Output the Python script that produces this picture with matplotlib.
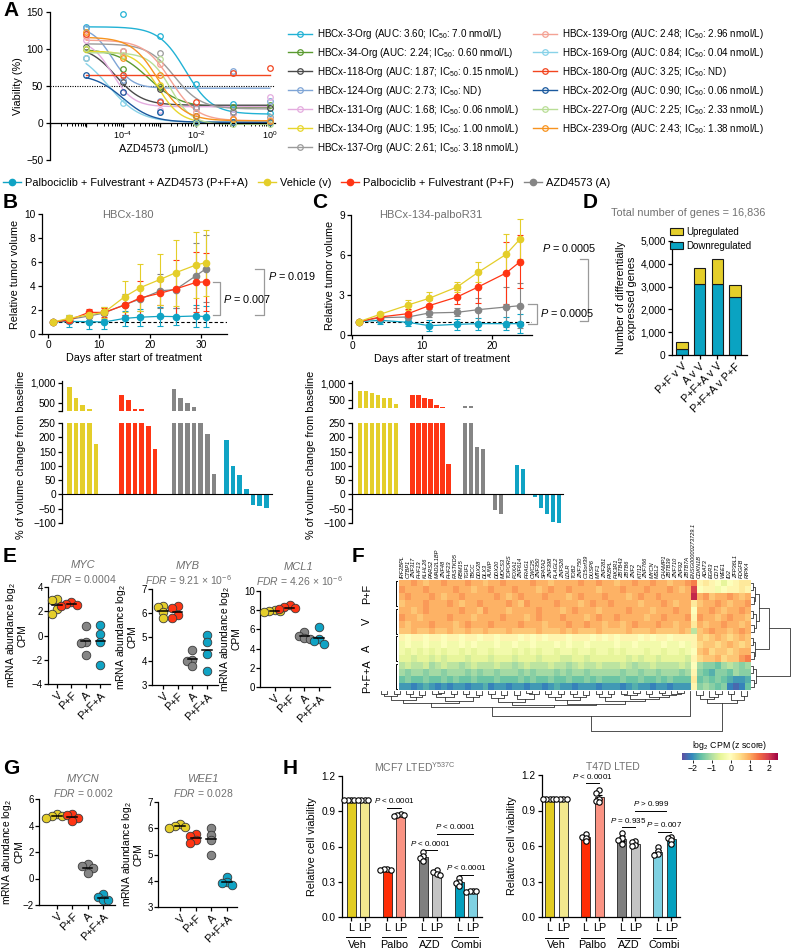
import numpy as np
import matplotlib
matplotlib.use('Agg')
import matplotlib.pyplot as plt
from matplotlib.lines import Line2D
from matplotlib.patches import Patch
from matplotlib.ticker import LogLocator, NullFormatter

plt.rcParams['font.family'] = ['Liberation Sans', 'DejaVu Sans']
plt.rcParams['mathtext.fontset'] = 'custom'
plt.rcParams['mathtext.rm'] = 'Liberation Sans'
plt.rcParams['mathtext.it'] = 'Liberation Sans:italic'
plt.rcParams['mathtext.bf'] = 'Liberation Sans:bold'
plt.rcParams['mathtext.default'] = 'regular'
plt.rcParams['axes.linewidth'] = 0.9
plt.rcParams['axes.labelsize'] = 7.8
plt.rcParams['xtick.labelsize'] = 7.3
plt.rcParams['ytick.labelsize'] = 7.3

GRAY_TXT = '#707070'
C_V, C_PF, C_A, C_PFA = '#e4ce2a', '#ff3514', '#858585', '#10a3c4'

# ---------- A: organoid dose response ----------
conc = [1e-5, 1e-4, 1e-3, 1e-2, 1e-1, 1e0]
org_names = ['HBCx-3', 'HBCx-34', 'HBCx-118', 'HBCx-124', 'HBCx-131', 'HBCx-134', 'HBCx-137',
             'HBCx-139', 'HBCx-169', 'HBCx-180', 'HBCx-202', 'HBCx-227', 'HBCx-239']
org_auc = ['3.60', '2.24', '1.87', '2.73', '1.68', '1.95', '2.61', '2.48', '0.84', '3.25', '0.90', '2.25', '2.43']
org_ic50 = ['7.0 nmol/L', '0.60 nmol/L', '0.15 nmol/L', 'ND', '0.06 nmol/L', '1.00 nmol/L', '3.18 nmol/L',
            '2.96 nmol/L', '0.04 nmol/L', 'ND', '0.06 nmol/L', '2.33 nmol/L', '1.38 nmol/L']
org_colors = ['#22b2d5', '#5a9a30', '#4a4a4a', '#7fa5d6', '#e4acdf', '#e7d62c', '#9b9b9b',
              '#f4a294', '#88d2e8', '#f2451f', '#1b599e', '#b9de96', '#f7931f']
org_viab = [
    [130, 147, 117, 53, 26, 13],
    [100, 73, 48, 22, 22, 24],
    [103, 55, 46, 10, 15, 20],
    [128, 58, 30, 22, 70, 30],
    [112, 42, 18, 20, 12, 35],
    [100, 90, 52, 2, 1, 2],
    [88, 97, 95, 20, 15, 8],
    [118, 97, 80, 15, 5, 4],
    [88, 27, 15, 2, 2, 1],
    [120, 65, 28, 28, 67, 75],
    [65, 42, 15, 2, 1, 1],
    [102, 92, 87, 0, -2, -2],
    [123, 88, 65, 10, 5, 3],
]
# 4PL fits: top, bottom, log10 IC50, hill slope
org_top = [130, 100, 104, 130, 113, 97, 107, 112, 100, 65, 66, 95, 116]
org_bottom = [12, 21, 24, 47, 22, 0, 19, 3, 1, 65, 1, -2, 3]
org_logic = [-2.3, -3.3, -4.2, -4.3, -4.3, -3.05, -2.6, -2.7, -4.4, -3.0, -4.0, -2.7, -3.05]
org_hill = [1.2, 1.0, 1.2, 1.6, 1.5, 1.4, 1.2, 1.2, 1.0, 1.0, 1.1, 1.5, 1.2]

# ---------- B / C: tumour growth ----------
days_b = [1, 4, 8, 11, 15, 18, 22, 25, 29, 31]
b_veh = [1, 1.3, 1.6, 1.8, 3.1, 3.85, 4.55, 5.1, 5.75, 5.95]
b_veh_err = [0, 0.3, 0.3, 0.45, 1.3, 1.95, 2.1, 2.75, 2.75, 2.75]
b_pf = [1, 1.15, 1.8, 1.8, 2.4, 3.0, 3.4, 3.75, 4.3, 4.35]
b_pf_err = [0, 0.25, 0.3, 0.4, 0.8, 1.4, 1.0, 2.4, 2.5, 2.4]
b_a = [1, 1.2, 1.5, 1.75, 2.45, 2.9, 3.6, 3.7, 4.85, 5.45]
b_a_err = [0, 0.3, 0.4, 0.5, 0.9, 1.0, 1.4, 1.5, 2.7, 2.8]
b_pfa = [1, 1.05, 1.03, 1.0, 1.3, 1.4, 1.47, 1.45, 1.5, 1.45]
b_pfa_err = [0, 0.5, 0.6, 0.6, 0.6, 0.7, 0.8, 0.7, 0.9, 0.85]

days_c = [1, 4, 8, 11, 15, 18, 22, 24]
c_veh = [1, 1.55, 2.25, 2.75, 3.6, 4.7, 6.05, 7.2]
c_veh_err = [0, 0.2, 0.4, 0.45, 0.4, 0.75, 1.5, 1.5]
c_pf = [1, 1.35, 1.6, 2.2, 2.85, 3.6, 4.65, 5.5]
c_pf_err = [0, 0.25, 0.35, 0.45, 0.5, 1.2, 2.3, 2.0]
c_a = [1, 1.3, 1.35, 1.65, 1.7, 1.9, 2.1, 2.2]
c_a_err = [0, 0.3, 0.3, 0.3, 0.3, 0.9, 1.5, 1.7]
c_pfa = [1, 1.1, 0.95, 0.7, 0.8, 0.85, 0.85, 0.85]
c_pfa_err = [0, 0.25, 0.3, 0.4, 0.4, 0.45, 0.5, 0.7]

nan = float('nan')
wf_b_veh = [900, 625, 450, 350, 175, nan, nan]
wf_b_pf = [700, 575, 360, 360, 240, 160, nan]
wf_b_a = [850, 630, 490, 400, 270, 210, 70]
wf_b_pfa = [190, 100, 68, 20, -38, -42, -47]
wf_c_veh = [765, 765, 700, 650, 550, 550, 380, nan]
wf_c_pf = [647, 647, 570, 530, 350, 290, 105, nan]
wf_c_a = [310, 310, 165, 158, 2, -55, -70, nan]
wf_c_pfa = [102, 88, 2, -10, -47, -70, -95, -102]

# ---------- D ----------
deg_labels = ['P+F v V', 'A v V', 'P+F+A v V', 'P+F+A v P+F']
deg_down = [250, 3130, 3130, 2540]
deg_up = [320, 670, 1090, 530]

# ---------- E / G ----------
grp_labels = ['V', 'P+F', 'A', 'P+F+A']
myc = [[3.0, 2.95, 2.2, 1.8], [2.8, 2.6, 2.5, 2.45], [0.8, -0.55, -0.6, -1.6], [0.9, 0.15, -0.5, -2.4]]
myb = [[6.3, 6.25, 6.05, 5.8], [6.3, 6.2, 5.9, 5.8], [4.45, 4.05, 4.0, 3.8], [5.1, 4.8, 4.3, 3.6]]
mcl1 = [[8.0, 7.9, 7.9, 7.8], [8.5, 8.3, 8.2, 8.1], [5.7, 5.3, 5.1, 5.0], [6.3, 5.0, 4.8, 4.5]]
mycn = [[4.9, 4.7, 4.7, 4.6], [4.85, 4.8, 4.6, 4.35], [1.1, 0.95, 0.8, 0.4], [-1.15, -1.4, -1.6, -1.65]]
wee1 = [[6.15, 6.1, 6.05, 6.0], [5.8, 5.7, 5.55, 5.45], [6.0, 5.75, 5.55, 5.0], [4.15, 3.95, 3.9, 3.85]]

# ---------- F: heatmap (letters a..z -> z score -2.5..2.5) ----------
genes = ['IRF2BPL', 'CTBP1', 'ZNF317', 'PHF13', 'KLHL26', 'PARS2', 'MAD2L1BP', 'ZNF48', 'PHF23',
         'FASTKD5', 'RBM15', 'TGIF1', 'TBCC', 'DDX28', 'DLX3', 'AUNIP', 'DDX20', 'MOCS3', 'TOPORS',
         'FOXA1', 'ZNF614', 'PRAG1', 'CWC25', 'ZNF350', 'SPATA2', 'ZNF398', 'PLAGL2', 'ZNF526', 'LDLR',
         'TOB2', 'ZNF750', 'C15orf39', 'DUSP6', 'MTF1', 'ZNF281', 'FKBPL', 'PIK3R1', 'ZBTB43', 'ZBTB6',
         'ZNF2', 'KTI12', 'ZNF766', 'MYCN', 'MSL2', 'CHAMP1', 'ZBTB39', 'ZNF710', 'ZNF92', 'ZBTB7A',
         'ENSG00000273729.1', 'CDKN1B', 'ADAT3', 'EGR3', 'CDT1', 'WEE1', 'ID2', 'ZFP36L1', 'PDGFB', 'RIPK4']
hm_left = [
    'rrsrqrr' 'srrrsrr' 'qrrsrrr' 'rsrrqrr' 'rrsrrsr' 'rqrrsrr' 'srrqrrs',
    'srrrsrr' 'rrsrrqr' 'rsrrrsr' 'rrqrsrr' 'srrrrqr' 'rrsrrrs' 'rrrsrqr',
    'rsrrrsr' 'qrrsrrr' 'rrsrqrs' 'rrrsrrr' 'qrsrrrs' 'rrrqrsr' 'rsrrrrr',
    'qrrrsrr' 'rsrqrrs' 'rrrrsrq' 'srrrrsr' 'rrqrsrr' 'srrrrqr' 'rrsrqrr',
    'rrqrsrr' 'rrrsrrq' 'srrrqrr' 'rrsrrrq' 'rsrrrqr' 'rrrsrrr' 'qrrrsrr',
    'srrqrrr' 'rsrrrqr' 'rrrsrrr' 'qrsrrrs' 'rrrqrsr' 'rsrrrrq' 'rrsrrrs',
    'rqrrrsr' 'rrqrsrr' 'rsrrrrs' 'rrrqrrr' 'srrsrrq' 'rrqrsrr' 'rsrrqrr',
    'qqrqqrq' 'qrqqrqq' 'rqqqrqq' 'qqrqqqr' 'qrqqqrq' 'qqqrqqq' 'rqqqqrq',
    'nmnnmnn' 'mnnmnnm' 'nnmnnnm' 'nmnmnnn' 'mnnnmnm' 'nmnnnmn' 'mnnmnnn',
    'lmllmll' 'mllmlml' 'llmllml' 'lmlllml' 'mllmlll' 'lmllmll' 'llmllml',
    'lklklkl' 'kllklkl' 'lklllkl' 'klkllkl' 'lkllkll' 'klklllk' 'llkllkl',
    'kkjkkjk' 'jkkkjkk' 'kjkkkjk' 'kkjkkkj' 'jkkjkkk' 'kkkjkjk' 'kjkkkkj',
    'ijiijhi' 'jiihiji' 'iijiihi' 'jiiijii' 'hijiiji' 'iijihii' 'jiiiiji',
    'hghhghh' 'ghhhghg' 'hhghhhg' 'hghhhgh' 'ghhghhh' 'hhghhgh' 'hghhhgh',
    'fgffgff' 'gfgffgf' 'ffgfffg' 'fgffgff' 'gffgfgf' 'ffgffgf' 'fgfgfff',
    'ddcdedc' 'dcddcdd' 'ecddcdd' 'cddcded' 'dcdddcd' 'ddcdedd' 'cddcddd',
]
hm_ensg = 'twxomnoinnmnmnon'
hm_right = ['nonmkmnoo', 'mnnlmnnon', 'rsqrrsrqr', 'qrrsrqrrs', 'rrsrqrrsr', 'srrqrsrrq',
            'rqrrsrrqr', 'qrsrrqrsr', 'qpqrqpqrq', 'pqqpqrqpq', 'qrpqqpqrr', 'pqqrpqqst',
            'hggfhihgh', 'gfeggfhgg', 'fgfgfedde', 'ghgfgcbcf']
row_groups = ['P+F', 'V', 'A', 'P+F+A']
row_tree = (1.0, (0.46, (0.2, (0.1, (0.05, 0, 1), (0.07, 2, 3)), (0.12, (0.06, 4, 5), (0.08, 6, 7))),
                  (0.11, (0.05, 8, 9), (0.07, 10, 11))),
            (0.13, (0.06, 12, 13), (0.08, 14, 15)))
col_tree = (1.0,
            (0.63,
             (0.40,
              (0.30,
               (0.22, (0.13, (0.07, 0, 1), (0.08, 2, 3)), (0.14, (0.07, 4, 5), (0.1, 6, 7))),
               (0.24, (0.14, (0.08, 8, (0.05, 9, 10)), (0.07, 11, 12)), (0.15, (0.07, 13, 14), (0.1, 15, 16)))),
              (0.36,
               (0.27, (0.17, (0.08, 17, 18), (0.1, 19, 20)), (0.19, (0.11, 21, 22), (0.07, (0.05, 23, 24), 25))),
               (0.33,
                (0.22, (0.14, (0.08, 26, 27), (0.07, 28, 29)), (0.15, (0.07, 30, 31), (0.09, 32, 33))),
                (0.26, (0.16, (0.08, 34, 35), (0.07, 36, 37)),
                 (0.2, (0.1, (0.07, 38, 39), (0.05, 40, 41)),
                  (0.14, (0.08, 42, 43), (0.1, (0.06, 44, 45), (0.08, 46, (0.04, 47, 48))))))))),
             49),
            (0.3, (0.2, (0.1, 50, 51), (0.14, 52, (0.07, 53, 54))), (0.22, (0.08, 55, 56), (0.12, 57, 58))))

# ---------- H: cell viability (L, LP per treatment) ----------
h_groups = ['Veh', 'Palbo', 'AZD', 'Combi']
h1_vals = [[1, 1, 1, 1], [1, 1, 1, 1],
           [0.41, 0.41, 0.40, 0.40], [0.88, 0.87, 0.87, 0.86],
           [0.55, 0.52, 0.50, 0.48], [0.40, 0.38, 0.37, 0.36],
           [0.33, 0.30, 0.29, 0.26], [0.22, 0.22, 0.22, 0.21]]
h2_vals = [[1, 1, 1, 1], [1, 1, 1, 1],
           [0.70, 0.68, 0.67, 0.64], [1.07, 1.05, 1.00, 0.98, 0.97],
           [0.71, 0.67, 0.65, 0.62], [0.64, 0.63, 0.61, 0.60],
           [0.59, 0.56, 0.53, 0.52], [0.68, 0.67, 0.65, 0.62]]
h1_colors = ['#e2cc22', '#f2e88e', '#ff2d05', '#fa9383', '#7f7f7f', '#c4c4c4', '#03a0be', '#7fd1e2']
h2_colors = ['#e2cc22', '#f2e88e', '#ff2d05', '#fa9383', '#7f7f7f', '#c4c4c4', '#7fd1e2', '#03a0be']

W, H = 791, 952
fig = plt.figure(figsize=(W / 100, H / 100), dpi=100)


def add_ax(x0, y0, x1, y1):
    return fig.add_axes([x0 / W, 1 - y1 / H, (x1 - x0) / W, (y1 - y0) / H])


def ftext(x, y, s, **kw):
    return fig.text(x / W, 1 - y / H, s, **kw)


def prism(ax):
    ax.spines['top'].set_visible(False)
    ax.spines['right'].set_visible(False)
    ax.tick_params(length=3, width=0.9, pad=1.5)


def swarm(vals, ppx, ppy, d):
    placed, out = [], []
    for v in vals:
        for k in (0, -1, 1, -2, 2, -3, 3):
            off = k * d * 0.62
            if all((off - po) ** 2 + ((v - pv) * ppy) ** 2 >= (0.6 * d) ** 2 for po, pv in placed):
                break
        placed.append((off, v))
        out.append(off / ppx)
    return np.array(out)


for lab, x, y in [('A', 3, 11), ('B', 3, 203), ('C', 312, 203), ('D', 583, 203), ('E', 3, 557),
                  ('F', 352, 557), ('G', 3, 768), ('H', 283, 768)]:
    ftext(x, y, lab, fontsize=15, fontweight='bold', ha='left', va='center')

# ---------------- A ----------------
axA = add_ax(49.5, 12, 275, 160)
prism(axA)
axA.set_xscale('log')
xs = np.logspace(-5, 0, 200)
handles = []
for i in range(len(org_names)):
    c = org_colors[i]
    yfit = org_bottom[i] + (org_top[i] - org_bottom[i]) / (1 + 10 ** ((np.log10(xs) - org_logic[i]) * org_hill[i]))
    axA.plot(xs, yfit, color=c, lw=1.0, zorder=2)
    axA.plot(conc, org_viab[i], 'o', ms=4, mfc='none', mec=c, mew=0.9, zorder=3, clip_on=False)
    handles.append(Line2D([], [], color=c, lw=1.0, marker='o', ms=4, mfc='none', mec=c, mew=0.9))
axA.axhline(50, color='k', ls=(0, (1, 1.2)), lw=0.8, zorder=1)
axA.set_xlim(1e-6, 10 ** 0.14)
axA.set_ylim(-50, 150)
axA.spines['bottom'].set_position(('data', 0))
axA.set_xticks([10.0 ** k for k in range(-6, 1)])
axA.set_xticklabels(['', '', '10$^{-4}$', '', '10$^{-2}$', '', '10$^{0}$'], fontsize=6.5)
axA.xaxis.set_minor_locator(LogLocator(base=10, subs=np.arange(2, 10)))
axA.xaxis.set_minor_formatter(NullFormatter())
axA.tick_params(which='minor', length=1.8, width=0.7)
axA.set_yticks([-50, 0, 50, 100, 150])
axA.set_ylabel('Viability (%)', labelpad=2)
ftext(164, 149, 'AZD4573 (μmol/L)', ha='center', va='center', fontsize=7.8)
labels = ['%s-Org (AUC: %s; IC$_{50}$: %s)' % (n, a, ic) for n, a, ic in zip(org_names, org_auc, org_ic50)]
fig.legend(handles, labels, loc='upper left', bbox_to_anchor=(288 / W, 1 - 27 / H), ncol=2, frameon=False,
           fontsize=7.1, handlelength=2.4, handletextpad=0.5, labelspacing=0.5, columnspacing=1.45,
           borderaxespad=0, borderpad=0)

# legend for B/C
bc_handles = [Line2D([], [], color=c, marker='o', ms=4.5, lw=1) for c in (C_PFA, C_V, C_PF, C_A)]
fig.legend(bc_handles, ['Palbociclib + Fulvestrant + AZD4573 (P+F+A)', 'Vehicle (v)',
                        'Palbociclib + Fulvestrant (P+F)', 'AZD4573 (A)'],
           loc='center left', bbox_to_anchor=(3 / W, 1 - 183 / H), ncol=4, frameon=False, fontsize=7.9,
           handlelength=1.6, handletextpad=0.4, columnspacing=0.9, borderaxespad=0, borderpad=0)


def growth(ax, days, series, xlim, ylim, xticks, yticks):
    prism(ax)
    for vals, err, c in series:
        ax.errorbar(days, vals, yerr=err, color=c, lw=0.9, marker='o', ms=4.5, capsize=2,
                    elinewidth=0.8, capthick=0.8, zorder=3, clip_on=False)
    ax.plot([days[0], xlim[1]], [1, 1], color='k', ls=(0, (3, 2)), lw=0.8, zorder=2)
    ax.set_xlim(*xlim)
    ax.set_ylim(*ylim)
    ax.set_xticks(xticks)
    ax.set_yticks(yticks)
    ax.set_xlabel('Days after start of treatment', labelpad=2)
    ax.set_ylabel('Relative tumor volume', labelpad=3)


def bracket(ax, x0, x1, y0, y1):
    ax.plot([x0, x1, x1, x0], [y0, y0, y1, y1], color='#9a9a9a', lw=0.9, clip_on=False)


# ---------------- B ----------------
axB = add_ax(42, 214, 227, 334)
growth(axB, days_b, [(b_pfa, b_pfa_err, C_PFA), (b_a, b_a_err, C_A), (b_pf, b_pf_err, C_PF),
                     (b_veh, b_veh_err, C_V)], (-1.2, 35.1), (0, 10), [0, 10, 20, 30], [0, 2, 4, 6, 8, 10])
bracket(axB, 32.4, 33.7, 4.36, 1.58)
axB.text(34.4, 2.95, '$\\mathit{P}$ = 0.007', fontsize=7.8, va='center', ha='left')
bracket(axB, 40.6, 42.4, 5.4, 1.58)
axB.text(43.1, 4.83, '$\\mathit{P}$ = 0.019', fontsize=7.8, va='center', ha='left')
ftext(128, 215, 'HBCx-180', ha='center', va='center', color=GRAY_TXT, fontsize=8)

# ---------------- C ----------------
axC = add_ax(351, 215, 532, 335)
growth(axC, days_c, [(c_pfa, c_pfa_err, C_PFA), (c_a, c_a_err, C_A), (c_pf, c_pf_err, C_PF),
                     (c_veh, c_veh_err, C_V)], (-0.15, 25.7), (0, 9), [0, 10, 20], [0, 3, 6, 9])
bracket(axC, 25.1, 26.4, 2.3, 0.8)
axC.text(26.9, 1.63, '$\\mathit{P}$ = 0.0005', fontsize=7.8, va='center', ha='left')
bracket(axC, 32.6, 33.7, 5.68, 1.05)
axC.text(27.1, 6.5, '$\\mathit{P}$ = 0.0005', fontsize=7.8, va='center', ha='left')
ftext(431, 215, 'HBCx-134-palboR31', ha='center', va='center', color=GRAY_TXT, fontsize=8)


def waterfall(x0, x1, top_y, top_lim, groups, n, gap, xlim, ylab_x):
    axt = add_ax(x0, top_y, x1, 411 if top_lim[0] == 300 else 408)
    axb = add_ax(x0, 423, x1, 523)
    for g, (vals, c) in enumerate(groups):
        vals = np.array(vals, float)
        pos = g * (n + gap) + np.arange(n)
        ok = ~np.isnan(vals)
        for ax in (axt, axb):
            ax.bar(pos[ok], vals[ok], width=0.7, color=c, lw=0)
    for ax in (axt, axb):
        prism(ax)
        ax.set_xlim(*xlim)
        ax.set_xticks([])
    axt.spines['bottom'].set_visible(False)
    axt.set_ylim(*top_lim)
    axt.set_yticks([top_lim[0], 500, 1000])
    axt.set_yticklabels(['', '500', '1,000'])
    axb.set_ylim(-100, 250)
    axb.set_yticks(range(-100, 251, 50))
    axb.spines['bottom'].set_position(('data', 0))
    axb.spines['bottom'].set_linewidth(0.8)
    ftext(ylab_x, 455, '% of volume change from baseline', rotation=90, ha='center', va='center', fontsize=7.8)


waterfall(62, 272, 381, (300, 1050), [(wf_b_veh, C_V), (wf_b_pf, C_PF), (wf_b_a, C_A), (wf_b_pfa, C_PFA)],
          7, 0.85, (-1.1, 30.4), 21)
waterfall(352, 563, 381, (265, 1060), [(wf_c_veh, C_V), (wf_c_pf, C_PF), (wf_c_a, C_A), (wf_c_pfa, C_PFA)],
          8, 0.7, (-1.37, 33.8), 311)

# ---------------- D ----------------
axD = add_ax(672, 241, 747, 355)
prism(axD)
xd = np.arange(len(deg_labels))
axD.bar(xd, deg_down, width=0.65, color='#0aa3c2', edgecolor='#1a1a1a', lw=0.8)
axD.bar(xd, deg_up, bottom=deg_down, width=0.65, color=C_V, edgecolor='#1a1a1a', lw=0.8)
axD.set_xlim(-0.56, 3.67)
axD.set_ylim(0, 5000)
axD.set_yticks(range(0, 5001, 1000))
axD.set_yticklabels(['0', '1,000', '2,000', '3,000', '4,000', '5,000'])
axD.set_xticks(xd)
axD.set_xticklabels(deg_labels, rotation=45, ha='right', rotation_mode='anchor', fontsize=7.8)
axD.set_ylabel('Number of differentially\nexpressed genes', labelpad=2)
fig.legend([Patch(facecolor=C_V, edgecolor='#1a1a1a', lw=0.8), Patch(facecolor='#0aa3c2', edgecolor='#1a1a1a', lw=0.8)],
           ['Upregulated', 'Downregulated'], loc='upper left', bbox_to_anchor=(670 / W, 1 - 227 / H),
           frameon=False, fontsize=7, handlelength=1.3, handleheight=0.8, handletextpad=0.4,
           labelspacing=0.4, borderaxespad=0, borderpad=0)
ftext(688, 213, 'Total number of genes = 16,836', ha='center', va='center', color=GRAY_TXT, fontsize=7.8)

# ---------------- E / G ----------------
dot_colors = [C_V, C_PF, C_A, C_PFA]


def dot_panel(box, groups, xlim, ylim, yticks, title, fdr, tx, ty, lab_x):
    ax = add_ax(*box)
    prism(ax)
    ax.tick_params(axis='y', labelsize=7, pad=1.0, length=2.6)
    ppx = (box[2] - box[0]) / (xlim[1] - xlim[0])
    ppy = (box[3] - box[1]) / (ylim[1] - ylim[0])
    for i, vals in enumerate(groups):
        offs = swarm(vals, ppx, ppy, 8.5)
        ax.scatter(i + offs, vals, s=38, color=dot_colors[i], edgecolors='#3a3a3a', linewidths=0.6,
                   zorder=3, clip_on=False)
        m = np.mean(vals)
        ax.plot([i - 0.32, i + 0.32], [m, m], color='k', lw=1.1, zorder=4)
    ax.set_xlim(*xlim)
    ax.set_ylim(*ylim)
    ax.set_yticks(yticks)
    ax.set_xticks(range(4))
    ax.set_xticklabels(grp_labels, rotation=45, ha='right', rotation_mode='anchor', fontsize=7.8)
    ax.set_ylabel('mRNA abundance log$_2$\nCPM', fontsize=7.4, linespacing=1.0)
    ax.yaxis.set_label_coords((lab_x - box[0]) / (box[2] - box[0]), 0.5)
    ftext(tx, ty, title, ha='center', va='center', style='italic', color=GRAY_TXT, fontsize=8)
    ftext(tx, ty + 14, '$\\mathit{FDR}$ = ' + fdr, ha='center', va='center', color=GRAY_TXT, fontsize=7.5)
    return ax


dot_panel((48, 587, 110, 684), myc, (-0.62, 3.68), (-4, 4), [-4, -2, 0, 2, 4], 'MYC', '0.0004', 83, 565, 28)
dot_panel((152, 589, 218, 685), myb, (-0.75, 3.74), (3, 7), [3, 4, 5, 6, 7], 'MYB', '9.21 × 10$^{-6}$', 188, 566, 138)
dot_panel((260, 591, 330, 687), mcl1, (-1.0, 3.74), (0, 10), [0, 2, 4, 6, 8, 10], 'MCL1', '4.26 × 10$^{-6}$', 299, 567, 242)
dot_panel((39, 799, 115, 905), mycn, (-1.18, 3.8), (-2, 6), [-2, 0, 2, 4, 6], 'MYCN', '0.002', 83, 779, 24.5)
dot_panel((158, 802, 237, 907), wee1, (-1.4, 3.63), (3, 7), [3, 4, 5, 6, 7], 'WEE1', '0.028', 203, 779, 144)

# ---------------- F ----------------
rows = [hm_left[r] + hm_ensg[r] + hm_right[r] for r in range(16)]
mat = np.array([[(ord(ch) - ord('a')) * 0.2 - 2.5 for ch in row] for row in rows])
ncol = mat.shape[1]
axF = add_ax(378, 580, 750, 690)
im = axF.imshow(mat, cmap='Spectral_r', vmin=-2.55, vmax=2.45, aspect='auto', interpolation='nearest',
                extent=(0, ncol, 16, 0))
axF.set_axis_off()
for j, g in enumerate(genes):
    axF.text(j + 0.5, -0.25, g, rotation=90, ha='center', va='bottom', fontsize=4.1, style='italic')
for k, lab in enumerate(row_groups):
    r0, r1 = 4 * k, 4 * k + 4
    axF.plot([-0.25, -0.55, -0.55, -0.25], [r0 + 0.2, r0 + 0.2, r1 - 0.2, r1 - 0.2], color='k', lw=0.7,
             clip_on=False)
    ftext(367, 580 + (r0 + 2) * 110 / 16, lab, rotation=90, ha='center', va='center', fontsize=7.8)


def dendro(ax, node, horiz):
    if isinstance(node, int):
        return node + 0.5, 0.0
    h, a, b = node
    pa, ha = dendro(ax, a, horiz)
    pb, hb = dendro(ax, b, horiz)
    if horiz:
        ax.plot([ha, h, h, hb], [pa, pa, pb, pb], color='#333333', lw=0.6)
    else:
        ax.plot([pa, pa, pb, pb], [ha, h, h, hb], color='#333333', lw=0.6)
    return (pa + pb) / 2, h


axRD = add_ax(751, 580, 791, 690)
dendro(axRD, row_tree, True)
axRD.set_ylim(16, 0)
axRD.set_xlim(0, 1.03)
axRD.set_axis_off()
axCD = add_ax(378, 691, 750, 732)
dendro(axCD, col_tree, False)
axCD.set_xlim(0, ncol)
axCD.set_ylim(1.03, 0)
axCD.set_axis_off()

cax = add_ax(682, 753, 778, 760)
cb = fig.colorbar(im, cax=cax, orientation='horizontal', ticks=[-2, -1, 0, 1, 2])
cb.outline.set_visible(False)
cax.tick_params(labelsize=6.3, length=2, width=0.6, pad=1)
ftext(730, 745, 'log$_2$ CPM (z score)', ha='center', va='center', fontsize=6.3)


# ---------------- H ----------------
def viability(box, vals_list, colors, xlim, title, tx, annots):
    ax = add_ax(*box)
    prism(ax)
    ppx = (box[2] - box[0]) / (xlim[1] - xlim[0])
    ppy = (box[3] - box[1]) / 1.2
    pos = []
    for g in range(4):
        for k, off in enumerate((-0.19, 0.19)):
            vals = np.array(vals_list[2 * g + k], float)
            x = g + off
            pos.append(x)
            m = vals.mean()
            se = vals.std(ddof=1) / np.sqrt(len(vals))
            ax.bar(x, m, width=0.25, color=colors[2 * g + k], edgecolor='#222222', lw=0.6, zorder=2)
            ax.errorbar(x, m, yerr=se, color='k', capsize=2, lw=0.8, capthick=0.8, zorder=3)
            sv = sorted(vals, reverse=True)
            offs = swarm(sv, ppx, ppy, 5.5)
            ax.scatter(x + offs, sv, s=15, facecolor='white', edgecolor='k',
                       linewidths=0.8, zorder=4, clip_on=False)
    ax.set_xlim(*xlim)
    ax.set_ylim(0, 1.2)
    ax.set_yticks([0, 0.3, 0.6, 0.9, 1.2])
    ax.set_yticklabels(['0.0', '0.3', '0.6', '0.9', '1.2'])
    ax.set_xticks(pos)
    ax.set_xticklabels(['L', 'LP'] * 4, fontsize=7.8)
    ax.set_ylabel('Relative cell viability', labelpad=3)
    tr = ax.get_xaxis_transform()
    for g, name in enumerate(h_groups):
        ax.plot([g - 0.33, g + 0.33], [-0.145, -0.145], color='k', lw=0.7, transform=tr, clip_on=False)
        ax.text(g, -0.2, name, ha='center', va='center', fontsize=7.8, transform=tr)
    for x0, x1, y, txt in annots:
        ax.plot([x0, x1], [y, y], color='k', lw=0.7)
        ax.text((x0 + x1) / 2, y + 0.02, txt, ha='center', va='bottom', fontsize=5.8)
    ftext(tx, 767, title, ha='center', va='center', color=GRAY_TXT, fontsize=7.5)


viability((342, 776, 482, 917), h1_vals, h1_colors, (-0.44, 3.44), 'MCF7 LTED$^{Y537C}$', 415,
          [(0.81, 1.19, 0.93, '$\\mathit{P}$ < 0.0001'), (1.81, 2.19, 0.57, '$\\mathit{P}$ < 0.0001'),
           (2.19, 3.19, 0.71, '$\\mathit{P}$ < 0.0001'), (2.81, 3.19, 0.36, '$\\mathit{P}$ < 0.0001')])
viability((542, 775, 680, 917), h2_vals, h2_colors, (-0.4, 3.43), 'T47D LTED', 613,
          [(0.81, 1.19, 1.13, '$\\mathit{P}$ < 0.0001'), (2.19, 3.05, 0.90, '$\\mathit{P}$ > 0.999'),
           (1.81, 2.19, 0.76, '$\\mathit{P}$ = 0.935'), (2.81, 3.19, 0.72, '$\\mathit{P}$ = 0.007')])

fig.savefig('out.png', dpi=100)
